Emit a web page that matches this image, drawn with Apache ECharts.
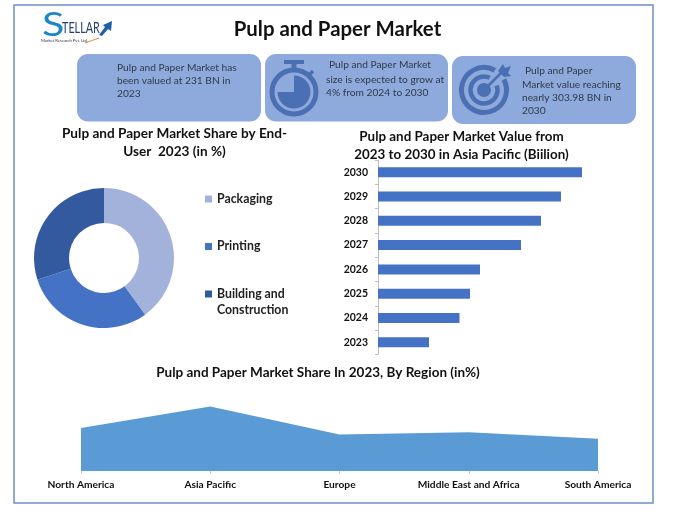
<!DOCTYPE html>
<html>
<head>
<meta charset="utf-8">
<title>Pulp and Paper Market</title>
<script src="https://cdn.jsdelivr.net/npm/echarts@6/dist/echarts.min.js"></script>
<style>
  html, body { margin: 0; padding: 0; background: #fff; }
  #chart { width: 695px; height: 513px; }
</style>
</head>
<body>
<div id="chart"></div>
<script>
// end-user share, 2023 (%)
const endUsers = ['Packaging', 'Printing', 'Building and Construction']
const endUserShare = [40, 30, 30]

// asia pacific value (no axis in the picture)
const years = ['2023', '2024', '2025', '2026', '2027', '2028', '2029', '2030']
const yearValues = [51, 81.5, 92, 102, 143, 163, 183, 204]

// regional share, estimated from the area heights
const regions = ['North America', 'Asia Pacific', 'Europe', 'Middle East and Africa', 'South America']
const regionShare = [20, 30, 17, 18, 15]

const FONT = 'Lato'
const boxBlue = '#8EA9DB'
const iconBlue = '#4A70B3'
const boxText = '#2F3A4A'

const titleStyle = { fontFamily: FONT, fontWeight: 'bold', color: '#111', fontSize: 13.6, lineHeight: 18 }

// rounded info box behind the texts
const box = (x, y, w, h) => ({
  type: 'rect',
  z: 1,
  shape: { x, y, width: w, height: h, r: 11 },
  style: { fill: boxBlue },
})

const line = (x, y, text) => ({
  type: 'text',
  z: 3,
  x,
  y,
  style: { text, fill: boxText, font: '10.2px ' + FONT, verticalAlign: 'middle' },
})

const ring = (cx, cy, r, width, startAngle, endAngle) => ({
  type: 'arc',
  z: 2,
  shape: { cx, cy, r, startAngle, endAngle },
  style: { stroke: iconBlue, lineWidth: width, fill: 'none' },
})

const solid = (type, shape) => ({ type, z: 2, shape, style: { fill: iconBlue } })

const stopwatch = [
  ring(294, 92, 22, 5, 0, Math.PI * 2),
  // three quarters filled, upper left left empty
  solid('sector', { cx: 294, cy: 92, r: 16.5, r0: 0, startAngle: -Math.PI / 2, endAngle: Math.PI }),
  solid('rect', { x: 284, y: 60, width: 20, height: 4 }),
  solid('rect', { x: 291.5, y: 63, width: 5, height: 6 }),
  {
    type: 'line',
    z: 2,
    shape: { x1: 309, y1: 75, x2: 313, y2: 71 },
    style: { stroke: iconBlue, lineWidth: 3.5 },
  },
]

const target = [
  // both rings open towards the arrow
  ring(484, 90, 22.5, 5, -Math.PI * 0.155, Math.PI * 2 - Math.PI * 0.34),
  ring(484, 90, 13.5, 4.5, -Math.PI * 0.11, Math.PI * 2 - Math.PI * 0.36),
  solid('circle', { cx: 484, cy: 90, r: 7 }),
  {
    type: 'line',
    z: 2,
    shape: { x1: 484, y1: 90, x2: 503, y2: 71 },
    style: { stroke: iconBlue, lineWidth: 2.5 },
  },
  solid('polygon', { points: [[498, 71], [503, 64], [505, 68], [511, 66], [508, 73], [511, 76], [504, 77]] }),
]

const logo = [
  {
    type: 'text',
    x: 42,
    y: 25,
    scaleX: 1.25,
    style: { text: 'S', fill: '#1C86C8', font: '33px ' + FONT, verticalAlign: 'middle' },
  },
  {
    type: 'text',
    x: 62,
    y: 28,
    scaleX: 0.72,
    style: { text: 'TELLAR', fill: '#23406F', font: '15px ' + FONT, verticalAlign: 'middle' },
  },
  {
    type: 'text',
    x: 41,
    y: 41,
    style: { text: 'Market Research Pvt. Ltd.', fill: '#333', font: '4.2px ' + FONT, verticalAlign: 'middle' },
  },
  {
    type: 'polygon',
    shape: { points: [[99, 35], [105, 27], [103, 25], [112, 21], [111, 31], [108, 29], [102, 36]] },
    style: { fill: '#1F5FA8' },
  },
  {
    type: 'line',
    shape: { x1: 85, y1: 43, x2: 99, y2: 38 },
    style: { stroke: '#E08A3C', lineWidth: 1 },
  },
]

const option = {
  animation: false,
  backgroundColor: '#fff',
  textStyle: { fontFamily: FONT },
  color: ['#A2B2DB', '#4472C4', '#335A9E'],
  title: [
    {
      text: 'Pulp and Paper Market',
      left: 337.5,
      top: 17,
      padding: 0,
      textAlign: 'center',
      textStyle: { ...titleStyle, fontSize: 20.4, lineHeight: 24 },
    },
    {
      text: 'Pulp and Paper Market Share by End-\nUser  2023 (in %)',
      left: 174.5,
      top: 125,
      padding: 0,
      textAlign: 'center',
      textStyle: titleStyle,
    },
    {
      text: 'Pulp and Paper Market Value from\n2023 to 2030 in Asia Pacific (Biilion)',
      left: 461.5,
      top: 128,
      padding: 0,
      textAlign: 'center',
      textStyle: { ...titleStyle, fontSize: 13.4 },
    },
    {
      text: 'Pulp and Paper Market Share In 2023, By Region (in%)',
      left: 318,
      top: 364,
      padding: 0,
      textAlign: 'center',
      textStyle: { ...titleStyle, fontSize: 13.5 },
    },
  ],
  legend: {
    orient: 'vertical',
    left: 205,
    top: 193,
    padding: 0,
    itemWidth: 7,
    itemHeight: 7,
    itemGap: 35.5,
    icon: 'rect',
    data: endUsers,
    selectedMode: false,
    // second line of the long name goes in the graphic text below
    formatter: (name) => (name === endUsers[2] ? 'Building and' : name),
    textStyle: { fontFamily: FONT, fontWeight: 'bold', fontSize: 12.3, color: '#222' },
  },
  grid: [
    { left: 378, top: 160, width: 204, height: 194.5 },
    { left: 81, top: 385, width: 517, height: 86 },
  ],
  xAxis: [
    { gridIndex: 0, type: 'value', min: 0, max: 204, show: false },
    {
      gridIndex: 1,
      type: 'category',
      boundaryGap: false,
      data: regions,
      axisLine: { show: false },
      axisTick: { show: true, length: 3, lineStyle: { color: '#ccc' } },
      axisLabel: {
        interval: 0,
        margin: 9,
        color: '#111',
        fontFamily: FONT,
        fontWeight: 'bold',
        fontSize: 10.2,
      },
    },
  ],
  yAxis: [
    {
      gridIndex: 0,
      type: 'category',
      data: years,
      axisLine: { show: true, lineStyle: { color: '#BFBFBF' } },
      axisTick: { show: true, length: 3, lineStyle: { color: '#BFBFBF' } },
      axisLabel: {
        margin: 10,
        color: '#111',
        fontFamily: FONT,
        fontWeight: 'bold',
        fontSize: 10.5,
      },
    },
    { gridIndex: 1, type: 'value', min: 0, max: 40, show: false },
  ],
  series: [
    {
      type: 'pie',
      center: [104, 258],
      radius: [35, 70],
      startAngle: 90,
      label: { show: false },
      labelLine: { show: false },
      data: endUsers.map((name, i) => ({ name, value: endUserShare[i] })),
    },
    {
      type: 'bar',
      xAxisIndex: 0,
      yAxisIndex: 0,
      data: yearValues,
      barWidth: 10,
      itemStyle: { color: '#4472C4' },
    },
    {
      type: 'line',
      xAxisIndex: 1,
      yAxisIndex: 1,
      data: regionShare,
      symbol: 'none',
      lineStyle: { width: 0 },
      areaStyle: { color: '#5B9BD5', opacity: 1 },
    },
  ],
  graphic: [
    {
      type: 'rect',
      z: 0,
      shape: { x: 14, y: 5, width: 639, height: 498 },
      style: { fill: 'none', stroke: '#6E8FC6', lineWidth: 1.5 },
    },
    box(77, 54, 184, 67.5),
    box(265, 54, 183, 67.5),
    box(452, 56, 184, 68),
    line(117, 68, 'Pulp and Paper Market has'),
    line(117, 81, 'been valued at 231 BN in'),
    line(117, 94, '2023'),
    line(329, 65, 'Pulp and Paper Market'),
    line(326, 80, 'size is expected to grow at'),
    line(326, 93, '4% from 2024 to 2030'),
    line(525, 71, 'Pulp and Paper'),
    line(522, 84.5, 'Market value reaching'),
    line(522, 98, 'nearly 303.98 BN in'),
    line(522, 111, '2030'),
    ...stopwatch,
    ...target,
    ...logo,
    {
      type: 'text',
      x: 217,
      y: 310,
      style: { text: 'Construction', fill: '#222', font: 'bold 12.3px ' + FONT, verticalAlign: 'middle' },
    },
  ],
}

const chartInstance = echarts.init(document.getElementById('chart'))
chartInstance.setOption(option)
</script>
</body>
</html>
